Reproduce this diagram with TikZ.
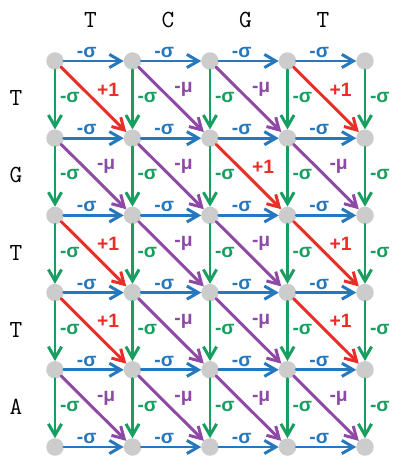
\documentclass[tikz,border=0pt]{standalone}
\usepackage{fontspec}
\setmainfont{Liberation Sans}
\usetikzlibrary{arrows.meta}

\definecolor{gapblue}{RGB}{38,120,190}
\definecolor{gapgreen}{RGB}{24,158,96}
\definecolor{mispurple}{RGB}{142,72,165}
\definecolor{matchred}{RGB}{235,45,40}
\definecolor{dotgray}{RGB}{204,204,204}

\begin{document}
\begin{tikzpicture}[x=0.02cm,y=-0.02cm,>={Straight Barb[length=6.5pt,width=7.5pt]},line cap=round,line join=round,
  dot/.style={circle,fill=dotgray,minimum size=0.35cm,inner sep=0pt,outer sep=0pt},
  seq/.style={font=\ttfamily\fontsize{14}{16}\selectfont},
  score/.style={font=\bfseries\fontsize{11}{13}\selectfont,inner sep=1pt},
  hgap/.style={->,gapblue,line width=1.7pt},
  vgap/.style={->,gapgreen,line width=1.7pt},
  mis/.style={->,mispurple,line width=1.7pt},
  match/.style={->,matchred,line width=1.7pt}]
  \useasboundingbox (0,0) rectangle (402,471);

  %--- Sequences ------------------------------------------------------------
  \foreach \s [count=\c] in {T,C,G,T}
    \node[seq] (top\c) at (13+77.5*\c,20) {\s};
  \foreach \s [count=\r] in {T,G,T,T,A}
    \node[seq] (left\r) at (16,21+77.2*\r) {\s};

  %--- Grid of cells --------------------------------------------------------
  \foreach \r in {0,...,5}
    \foreach \c in {0,...,4}
      \node[dot] (n\r\c) at (55+77.5*\c,61+77.2*\r) {};

  % Horizontal gaps
  \foreach \r in {0,...,5}
    \foreach \c in {0,...,3}{
      \pgfmathtruncatemacro\cc{\c+1}
      \draw[hgap] (n\r\c) -- (n\r\cc) node[score,midway,above,xshift=-0.14cm] {-σ};
    }

  % Vertical gaps
  \foreach \r in {0,...,4}
    \foreach \c in {0,...,4}{
      \pgfmathtruncatemacro\rr{\r+1}
      \draw[vgap] (n\r\c) -- (n\rr\c) node[score,midway,right,inner sep=2pt,yshift=0.04cm] {-σ};
    }

  %--- Diagonals: match or mismatch -----------------------------------------
  \foreach \r/\rowl in {0/T,1/G,2/T,3/T,4/A}
    \foreach \c/\coll in {0/T,1/C,2/G,3/T}{
      \pgfmathtruncatemacro\rr{\r+1}
      \pgfmathtruncatemacro\cc{\c+1}
      \ifx\rowl\coll
        \draw[match] (n\r\c) -- (n\rr\cc) node[score,midway,above right] {+1};
      \else
        \draw[mis] (n\r\c) -- (n\rr\cc) node[score,midway,above right] {-μ};
      \fi
    }
\end{tikzpicture}
\end{document}
